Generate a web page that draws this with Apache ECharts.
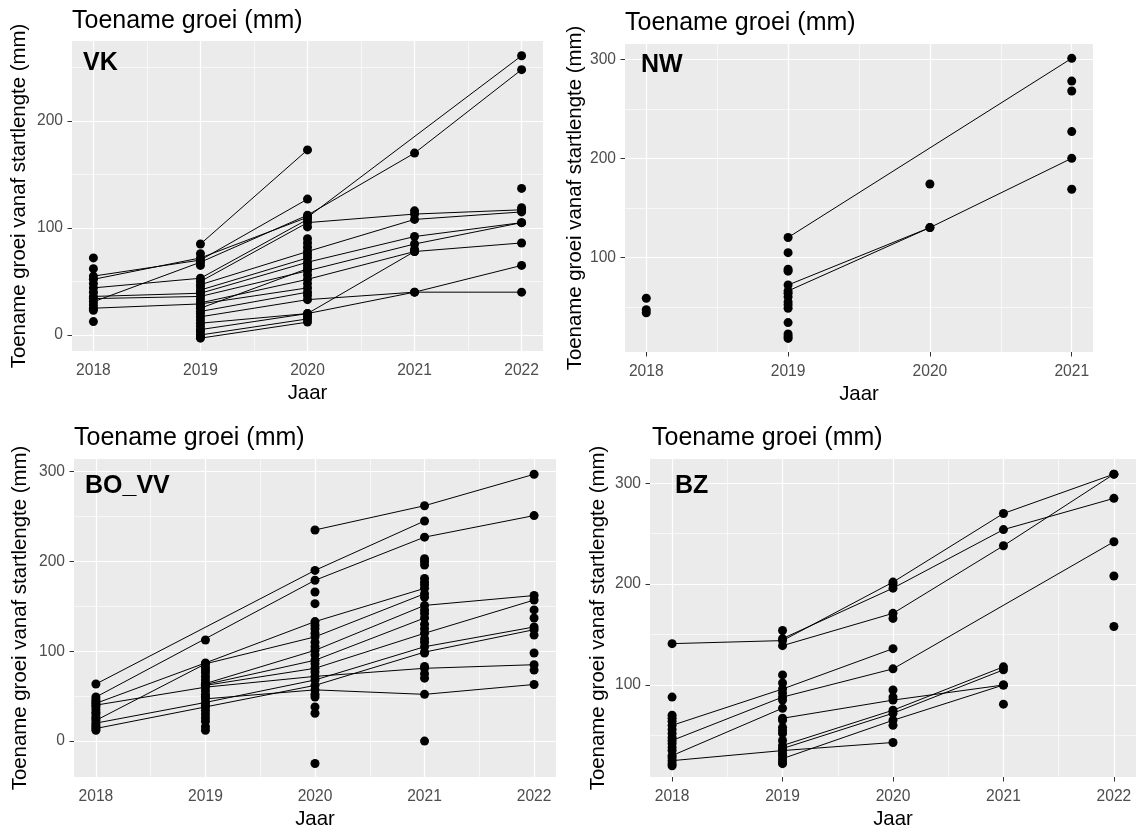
<!DOCTYPE html>
<html><head><meta charset="utf-8">
<script src="https://cdn.jsdelivr.net/npm/echarts@6/dist/echarts.min.js"></script>
<style>html,body{margin:0;padding:0;background:#fff}#c{width:1139px;height:832px}</style>
</head><body><div id="c"></div>
<script>
// ---------- DATA ----------
const years5 = [2018, 2019, 2020, 2021, 2022];
const years4 = [2018, 2019, 2020, 2021];
const panelNames = ['VK', 'NW', 'BO_VV', 'BZ'];
const titleText = 'Toename groei (mm)';
const yAxisTitle = 'Toename groei vanaf startlengte (mm)';
const xAxisTitle = 'Jaar';

const vkTicksY = [0, 100, 200];
const nwTicksY = [100, 200, 300];
const boTicksY = [0, 100, 200, 300];
const bzTicksY = [100, 200, 300];

// trajectories: one value per year (null = no measurement)
const vkLines = [
  [null, 85, 173, null, null],
  [55, 70, 127, null, null],
  [52, 72, 110, null, 261],
  [31, 68, 112, 170, 248],
  [44, 53, 108, null, null],
  [null, 50, 105, 113, 117],
  [null, 47, 78, 108, 115],
  [36, 39, 68, 92, 105],
  [34, 36, 60, 85, 105],
  [null, 30, 52, 78, 86],
  [25, 29, 44, null, null],
  [null, 22, 40, null, null],
  [null, 17, 33, 40, 40],
  [null, 11, 20, 78, null],
  [null, 5, 20, 40, 65],
  [null, 0, 15, null, null],
  [null, -3, 12, null, null],
  [null, 25, 62, null, null],
  [null, 42, 72, null, null]
];
const vkLoose = [
  [72, 62, 48, 40, 28, 23, 12.5],
  [76, 65, 45, 40, 33, 27, 20, 14, 8, 3, -1],
  [101, 90, 86, 82, 75, 65, 56, 48, 37, 17],
  [116, 80],
  [137, 119]
];

const nwLines = [
  [null, 120, null, 301],
  [null, 72, 130, 200],
  [null, 66, 130, null]
];
const nwLoose = [
  [58.6, 47, 44],
  [104.7, 88, 86, 63.6, 60, 55, 52, 48.5, 34, 22.6, 20, 18],
  [174],
  [278, 268, 227, 168.7]
];

const boLines = [
  [null, null, 235, 262, 297],
  [63.5, null, 190, 245, null],
  [49, null, 179, 227, 251],
  [42, 87, 133, 170, null],
  [23, 86, 116, 164, null],
  [null, 64, 101, 151, 162],
  [null, 63, 90, 137, null],
  [null, 62, 81, 120, 157],
  [20, 43, 68, 105, 127],
  [14, 38, 62, 99, 124],
  [40, 60, 72, 81, 85],
  [null, 47, 57, 52, 63]
];
const boLoose = [
  [46, 44, 38, 35, 32, 30, 27, 25, 18, 16, 12],
  [112.5, 82, 79, 76, 72, 68, 56, 52, 50, 40, 34, 30, 26, 22, 16, 12],
  [166, 153, 129, 125, 120, 110, 105, 96, 86, 77, 52, 49, 38, 31, -25],
  [203, 200, 196, 181, 177, 174, 160, 146, 142, 130, 125, 114, 110, 98, 83, 75, 70, 0],
  [146, 137, 118, 98, 79]
];

const bzLines = [
  [141, 144, 202, 270, 309],
  [null, 146, 196, 254, 285],
  [null, 139, 171, 238, 309],
  [60, 96, 136, null, null],
  [45, 88, 116, null, 242],
  [30, 77, null, null, null],
  [25, 35, 43, null, null],
  [null, 67, 85, 100, null],
  [null, 40, 75, 118, null],
  [null, 37, 72, 115, null],
  [null, 27, 65, 100, null]
];
const bzLoose = [
  [88, 70, 67, 64, 56, 52, 48, 42, 38, 35, 28, 22, 20],
  [154, 110, 102, 92, 85, 65, 58, 55, 52, 45, 32, 30, 24, 22],
  [200, 166, 95, 88, 60],
  [81],
  [208, 158]
];

// ---------- LAYOUT ----------
const FONT = '"Liberation Sans", Arial, sans-serif';
const panels = [
  { name: panelNames[0], years: years5, lines: vkLines, loose: vkLoose, yTicks: vkTicksY,
    grid: { left: 72, top: 41, width: 471, height: 310 }, yMin: -15, yMax: 274.8,
    title: { left: 72, top: 9 }, label: { left: 83, top: 51 }, yGap: 43 },
  { name: panelNames[1], years: years4, lines: nwLines, loose: nwLoose, yTicks: nwTicksY,
    grid: { left: 625, top: 44, width: 468, height: 308 }, yMin: 4.3, yMax: 315.5,
    title: { left: 625, top: 11 }, label: { left: 641, top: 53 }, yGap: 40 },
  { name: panelNames[2], years: years5, lines: boLines, loose: boLoose, yTicks: boTicksY,
    grid: { left: 74, top: 459, width: 482, height: 318 }, yMin: -40, yMax: 314,
    title: { left: 74, top: 426 }, label: { left: 85, top: 474 }, yGap: 44 },
  { name: panelNames[3], years: years5, lines: bzLines, loose: bzLoose, yTicks: bzTicksY,
    grid: { left: 650, top: 459, width: 486, height: 318 }, yMin: 8.8, yMax: 324,
    title: { left: 652, top: 426 }, label: { left: 675, top: 474 }, yGap: 42 }
];

const grids = [], xAxes = [], yAxes = [], series = [], titles = [];

panels.forEach((p, i) => {
  const ys = p.years;
  const xMin = ys[0] - 0.05 * (ys[ys.length - 1] - ys[0]);
  const xMax = ys[ys.length - 1] + 0.05 * (ys[ys.length - 1] - ys[0]);
  grids.push(Object.assign({ show: true, backgroundColor: '#EBEBEB', borderWidth: 0 }, p.grid));
  xAxes.push({
    type: 'value', gridIndex: i, min: xMin, max: xMax, splitNumber: 4,
    axisLine: { show: false },
    axisTick: { show: true, length: 4.5, lineStyle: { color: '#333333', width: 1 }, customValues: ys },
    axisLabel: { customValues: ys, color: '#4D4D4D', fontSize: 15.6, fontFamily: FONT, margin: 12,
      formatter: v => (Math.abs(v - Math.round(v)) < 1e-6 ? String(Math.round(v)) : '') },
    splitLine: { show: false },
    name: xAxisTitle, nameLocation: 'middle', nameGap: 32,
    nameTextStyle: { fontSize: 20.4, color: '#000', fontFamily: FONT }
  });
  yAxes.push({
    type: 'value', gridIndex: i, min: p.yMin, max: p.yMax, splitNumber: 3,
    axisLine: { show: false },
    axisTick: { show: true, length: 4.5, lineStyle: { color: '#333333', width: 1 }, customValues: p.yTicks },
    axisLabel: { customValues: p.yTicks, color: '#4D4D4D', fontSize: 15.6, fontFamily: FONT, margin: 9,
      formatter: v => (Math.abs(v % 100) < 1e-6 ? String(Math.round(v)) : '') },
    splitLine: { show: false },
    name: yAxisTitle, nameLocation: 'middle', nameGap: p.yGap, nameRotate: 90,
    nameTextStyle: { fontSize: 20.4, color: '#000', fontFamily: FONT }
  });

  // gridlines (major + minor) via markLine, beneath the data
  const mk = [];
  const major = { color: '#FFFFFF', width: 1.2, type: 'solid' };
  const minor = { color: '#FFFFFF', width: 0.6, type: 'solid' };
  ys.forEach((y, k) => {
    mk.push({ xAxis: y, lineStyle: major });
    if (k < ys.length - 1) mk.push({ xAxis: (y + ys[k + 1]) / 2, lineStyle: minor });
  });
  const t = p.yTicks;
  const step = t[1] - t[0];
  t.forEach(v => mk.push({ yAxis: v, lineStyle: major }));
  for (let v = t[0] - step / 2; v < p.yMax; v += step) {
    if (v > p.yMin) mk.push({ yAxis: v, lineStyle: minor });
  }
  series.push({
    type: 'line', xAxisIndex: i, yAxisIndex: i, data: [], z: 1, silent: true,
    markLine: { z: 1, symbol: ['none', 'none'], silent: true, animation: false, label: { show: false },
      emphasis: { disabled: true }, data: mk }
  });

  // trajectories
  p.lines.forEach(arr => {
    const d = [];
    arr.forEach((v, k) => { if (v !== null) d.push([ys[k], v]); });
    series.push({
      type: 'line', xAxisIndex: i, yAxisIndex: i, data: d, showSymbol: false, symbol: 'none',
      lineStyle: { color: '#000', width: 1 }, z: 3, silent: true, animation: false
    });
  });

  // points
  const pts = [];
  p.lines.forEach(arr => arr.forEach((v, k) => { if (v !== null) pts.push([ys[k], v]); }));
  p.loose.forEach((vals, k) => vals.forEach(v => pts.push([ys[k], v])));
  series.push({
    type: 'scatter', xAxisIndex: i, yAxisIndex: i, data: pts, symbolSize: 9,
    itemStyle: { color: '#000', opacity: 1 }, z: 4, silent: true, animation: false
  });

  titles.push({ text: titleText, left: p.title.left, top: p.title.top, padding: 0,
    textStyle: { fontSize: 25, fontWeight: 'normal', color: '#000', fontFamily: FONT } });
  titles.push({ text: p.name, left: p.label.left, top: p.label.top, padding: 0,
    textStyle: { fontSize: 25, fontWeight: 'bold', color: '#000', fontFamily: FONT } });
});

const chart = echarts.init(document.getElementById('c'), null, { renderer: 'canvas' });
chart.setOption({
  animation: false,
  backgroundColor: '#FFFFFF',
  title: titles,
  grid: grids,
  xAxis: xAxes,
  yAxis: yAxes,
  series: series
});
</script>
</body></html>
